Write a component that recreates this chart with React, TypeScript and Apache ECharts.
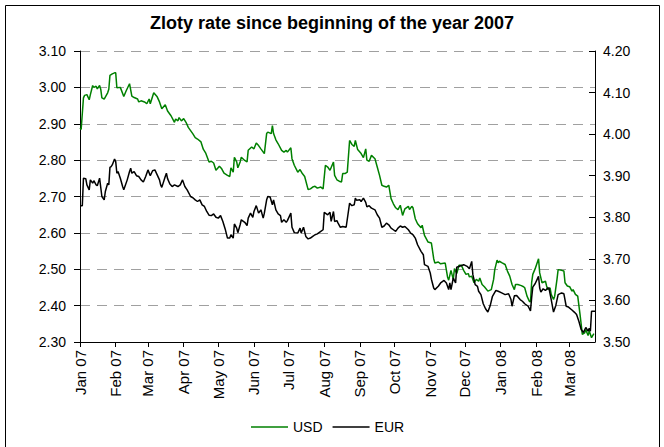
import React, { useEffect, useRef } from "react";
import * as echarts from "echarts";

const START_DATE = "2007-01-01";
const DAY_COUNT = 448; // 2007-01-01 .. 2008-03-23
const MONTHS = ["Jan", "Feb", "Mar", "Apr", "May", "Jun", "Jul", "Aug", "Sep", "Oct", "Nov", "Dec"];

// Days since 2007-01-01 and USD/PLN rate (left axis)
const usdDays = [
  0, 1, 3, 4, 6, 8, 9, 11, 12, 14, 15, 17, 18, 19, 21, 24, 25, 26, 28, 30, 31, 32, 35, 38, 40, 43, 45, 47, 50, 51,
  53, 56, 58, 60, 61, 64, 67, 69, 71, 74, 76, 79, 82, 83, 85, 86, 88, 90, 92, 94, 96, 98, 100, 102, 105, 107, 109, 112,
  114, 116, 118, 121, 123, 125, 128, 130, 131, 133, 134, 136, 137, 139, 140, 143, 145, 146, 149, 151, 153, 155, 157,
  160, 162, 163, 166, 167, 168, 170, 172, 175, 177, 179, 180, 183, 184, 186, 189, 191, 193, 195, 198, 200, 202, 204,
  206, 209, 211, 213, 215, 217, 220, 221, 223, 225, 227, 228, 230, 232, 234, 236, 238, 239, 241, 244, 246, 248, 249,
  251, 253, 256, 258, 260, 262, 264, 266, 268, 270, 272, 274, 276, 278, 280, 282, 285, 286, 288, 289, 291, 293, 296,
  297, 299, 302, 305, 307, 308, 311, 313, 317, 319, 320, 322, 324, 325, 327, 329, 331, 333, 335, 337, 338, 340, 342,
  344, 346, 347, 349, 351, 353, 354, 357, 359, 360, 362, 363, 364, 366, 369, 371, 373, 375, 377, 378, 380, 383, 385,
  386, 388, 390, 391, 392, 393, 395, 398, 399, 401, 404, 405, 406, 408, 409, 411, 412, 414, 415, 418, 420, 421, 423,
  425, 427, 428, 430, 432, 434, 436, 438, 439, 441, 442, 444, 446,
];
const usdRates = [
  2.888, 2.884, 2.971, 2.978, 2.98, 2.966, 2.98, 3.005, 3.0, 3.003, 2.996, 3.005, 2.995, 2.971, 2.968, 2.985, 2.995,
  3.033, 3.037, 3.04, 3.04, 2.999, 3.0, 2.975, 2.99, 3.01, 2.976, 2.972, 2.968, 2.96, 2.963, 2.96, 2.955, 2.968, 2.955,
  2.985, 2.974, 2.96, 2.941, 2.952, 2.935, 2.922, 2.904, 2.913, 2.908, 2.917, 2.908, 2.914, 2.904, 2.89, 2.881, 2.872,
  2.862, 2.858, 2.85, 2.83, 2.82, 2.795, 2.797, 2.792, 2.772, 2.783, 2.776, 2.764, 2.758, 2.755, 2.779, 2.767, 2.808,
  2.795, 2.779, 2.795, 2.808, 2.799, 2.795, 2.827, 2.836, 2.831, 2.847, 2.84, 2.831, 2.818, 2.873, 2.877, 2.873, 2.895,
  2.873, 2.856, 2.845, 2.827, 2.822, 2.827, 2.822, 2.834, 2.804, 2.786, 2.767, 2.774, 2.763, 2.755, 2.719, 2.721,
  2.726, 2.728, 2.723, 2.726, 2.721, 2.786, 2.781, 2.772, 2.795, 2.758, 2.746, 2.742, 2.74, 2.763, 2.763, 2.767, 2.854,
  2.843, 2.838, 2.854, 2.829, 2.818, 2.807, 2.831, 2.8, 2.797, 2.813, 2.804, 2.781, 2.758, 2.731, 2.728, 2.726, 2.731,
  2.694, 2.68, 2.669, 2.664, 2.676, 2.648, 2.666, 2.673, 2.664, 2.673, 2.669, 2.639, 2.625, 2.614, 2.621, 2.593, 2.575,
  2.572, 2.529, 2.517, 2.52, 2.515, 2.517, 2.479, 2.47, 2.497, 2.472, 2.502, 2.488, 2.511, 2.511, 2.497, 2.486, 2.488,
  2.479, 2.481, 2.463, 2.472, 2.467, 2.476, 2.458, 2.452, 2.444, 2.44, 2.444, 2.472, 2.499, 2.525, 2.518, 2.522, 2.518,
  2.513, 2.495, 2.481, 2.458, 2.444, 2.458, 2.458, 2.455, 2.452, 2.449, 2.426, 2.412, 2.41, 2.463, 2.486, 2.501, 2.529,
  2.49, 2.463, 2.467, 2.454, 2.444, 2.449, 2.431, 2.417, 2.426, 2.472, 2.499, 2.497, 2.495, 2.463, 2.454, 2.452, 2.44,
  2.444, 2.431, 2.426, 2.376, 2.321, 2.325, 2.334, 2.318, 2.33, 2.312, 2.323,
];

// Days since 2007-01-01 and EUR/PLN rate (right axis)
const eurDays = [
  0, 2, 3, 5, 6, 8, 9, 11, 12, 14, 15, 17, 19, 21, 22, 24, 25, 26, 27, 28, 30, 31, 32, 33, 35, 37, 38, 41, 43, 44, 45,
  47, 49, 51, 53, 55, 57, 59, 61, 63, 65, 67, 69, 70, 71, 74, 75, 76, 78, 80, 82, 85, 87, 89, 91, 93, 96, 98, 100, 102,
  104, 106, 108, 110, 112, 114, 116, 118, 120, 122, 124, 126, 128, 130, 131, 133, 134, 136, 137, 139, 140, 143, 145,
  146, 148, 150, 151, 153, 155, 157, 159, 160, 162, 163, 165, 167, 168, 170, 172, 174, 175, 177, 179, 180, 183, 184,
  186, 189, 191, 192, 194, 196, 198, 200, 202, 204, 206, 209, 211, 212, 215, 217, 218, 220, 221, 223, 224, 226, 228,
  231, 234, 236, 238, 239, 240, 243, 244, 246, 248, 249, 251, 253, 256, 258, 260, 262, 264, 266, 268, 270, 272, 274,
  276, 278, 280, 282, 285, 287, 289, 291, 293, 296, 298, 299, 302, 304, 305, 307, 308, 311, 313, 316, 318, 320, 321,
  322, 324, 326, 327, 330, 333, 336, 338, 340, 341, 343, 345, 346, 348, 350, 352, 354, 356, 358, 361, 363, 366, 369,
  372, 374, 375, 377, 379, 382, 384, 386, 389, 391, 392, 393, 395, 397, 398, 399, 400, 402, 404, 406, 407, 409, 411,
  413, 415, 418, 420, 422, 424, 427, 429, 431, 433, 435, 437, 439, 441, 442, 443, 444, 447,
];
const eurRates = [
  3.828, 3.828, 3.894, 3.893, 3.878, 3.866, 3.89, 3.882, 3.888, 3.878, 3.876, 3.894, 3.85, 3.842, 3.862, 3.882, 3.878,
  3.92, 3.922, 3.926, 3.94, 3.934, 3.906, 3.91, 3.894, 3.874, 3.866, 3.89, 3.91, 3.918, 3.906, 3.91, 3.9, 3.898, 3.89,
  3.885, 3.898, 3.914, 3.9, 3.912, 3.914, 3.902, 3.89, 3.878, 3.872, 3.898, 3.906, 3.893, 3.88, 3.874, 3.878, 3.874,
  3.878, 3.89, 3.874, 3.866, 3.85, 3.847, 3.842, 3.838, 3.842, 3.83, 3.826, 3.814, 3.805, 3.804, 3.808, 3.8, 3.798,
  3.804, 3.79, 3.772, 3.75, 3.75, 3.758, 3.75, 3.784, 3.774, 3.763, 3.782, 3.794, 3.788, 3.78, 3.798, 3.81, 3.8, 3.814,
  3.828, 3.81, 3.818, 3.798, 3.81, 3.842, 3.85, 3.849, 3.83, 3.842, 3.818, 3.808, 3.804, 3.788, 3.794, 3.788, 3.792,
  3.81, 3.776, 3.763, 3.762, 3.774, 3.762, 3.776, 3.754, 3.748, 3.75, 3.754, 3.758, 3.76, 3.766, 3.77, 3.812, 3.806,
  3.812, 3.79, 3.814, 3.79, 3.792, 3.786, 3.776, 3.778, 3.776, 3.834, 3.828, 3.83, 3.846, 3.841, 3.842, 3.838, 3.846,
  3.836, 3.825, 3.828, 3.822, 3.818, 3.806, 3.798, 3.776, 3.779, 3.786, 3.782, 3.774, 3.77, 3.766, 3.774, 3.779,
  3.776, 3.778, 3.77, 3.762, 3.758, 3.75, 3.734, 3.718, 3.71, 3.686, 3.682, 3.666, 3.651, 3.63, 3.626, 3.634, 3.642,
  3.648, 3.642, 3.626, 3.642, 3.626, 3.654, 3.642, 3.68, 3.683, 3.686, 3.682, 3.676, 3.694, 3.662, 3.638, 3.634, 3.622,
  3.614, 3.592, 3.58, 3.572, 3.587, 3.61, 3.624, 3.622, 3.618, 3.614, 3.616, 3.603, 3.586, 3.611, 3.612, 3.602, 3.598,
  3.592, 3.586, 3.575, 3.606, 3.632, 3.64, 3.652, 3.658, 3.63, 3.62, 3.628, 3.624, 3.63, 3.63, 3.602, 3.572, 3.588,
  3.614, 3.618, 3.616, 3.586, 3.584, 3.577, 3.572, 3.566, 3.55, 3.53, 3.523, 3.535, 3.526, 3.533, 3.526, 3.574, 3.574,
];

const leftTicks = { min: 2.3, max: 3.1, interval: 0.1 };
const rightTicks = { min: 3.5, max: 4.2, interval: 0.1 };

const FONT = "'Liberation Sans', Arial, sans-serif";

function buildDates(): string[] {
  const base = new Date(START_DATE + "T00:00:00Z").getTime();
  const out: string[] = [];
  for (let i = 0; i < DAY_COUNT; i++) {
    out.push(new Date(base + i * 86400000).toISOString().slice(0, 10));
  }
  return out;
}

export default function App() {
  const ref = useRef<HTMLDivElement>(null);
  useEffect(() => {
    if (!ref.current) return;
    const chart = echarts.init(ref.current, undefined, { renderer: "svg" });
    const dates = buildDates();
    const isMonthStart = (_i: number, v: string) => v.slice(8, 10) === "01";
    chart.setOption({
      animation: false,
      backgroundColor: "#fff",
      title: {
        text: "Zloty rate since beginning of the year 2007",
        left: "center",
        top: 9,
        textStyle: { fontFamily: FONT, fontSize: 18, fontWeight: "bold", color: "#000" },
      },
      graphic: [
        {
          type: "rect",
          shape: { x: 5.5, y: 5.5, width: 654, height: 450 },
          style: { fill: "none", stroke: "#000", lineWidth: 1 },
          silent: true,
        },
      ],
      legend: {
        data: ["USD", "EUR"],
        left: 246,
        top: 415,
        icon: "rect",
        itemWidth: 37,
        itemHeight: 1.5,
        itemGap: 10,
        textStyle: { fontFamily: FONT, fontSize: 14, color: "#000" },
      },
      grid: { left: 80, right: 69, top: 51, bottom: 105, containLabel: false },
      xAxis: {
        type: "category",
        data: dates,
        boundaryGap: false,
        axisLine: { lineStyle: { color: "#000", width: 1 } },
        axisTick: { show: true, interval: isMonthStart, length: 5, lineStyle: { color: "#000" } },
        axisLabel: {
          interval: isMonthStart,
          rotate: 90,
          margin: 8,
          fontFamily: FONT,
          fontSize: 15,
          color: "#000",
          formatter: (v: string) => MONTHS[parseInt(v.slice(5, 7), 10) - 1] + " " + v.slice(2, 4),
        },
        splitLine: { show: false },
      },
      yAxis: [
        {
          type: "value",
          position: "left",
          min: leftTicks.min,
          max: leftTicks.max,
          interval: leftTicks.interval,
          axisLine: { show: true, lineStyle: { color: "#000" } },
          axisTick: { show: true, length: 6, lineStyle: { color: "#000" } },
          axisLabel: {
            margin: 14,
            fontFamily: FONT,
            fontSize: 14,
            color: "#000",
            formatter: (v: number) => v.toFixed(2),
          },
          splitLine: { show: true, lineStyle: { color: "#a0a0a0", type: [10, 7], width: 1 } },
        },
        {
          type: "value",
          position: "right",
          min: rightTicks.min,
          max: rightTicks.max,
          interval: rightTicks.interval,
          axisLine: { show: true, lineStyle: { color: "#000" } },
          axisTick: { show: true, inside: true, length: 6, lineStyle: { color: "#000" } },
          axisLabel: {
            margin: 8,
            fontFamily: FONT,
            fontSize: 14,
            color: "#000",
            formatter: (v: number) => v.toFixed(2),
          },
          splitLine: { show: false },
        },
      ],
      series: [
        {
          name: "USD",
          type: "line",
          yAxisIndex: 0,
          symbol: "none",
          data: usdDays.map((d, i) => [d, usdRates[i]]),
          lineStyle: { color: "#008000", width: 1.5 },
          itemStyle: { color: "#008000" },
        },
        {
          name: "EUR",
          type: "line",
          yAxisIndex: 1,
          symbol: "none",
          data: eurDays.map((d, i) => [d, eurRates[i]]),
          lineStyle: { color: "#000", width: 1.5 },
          itemStyle: { color: "#000" },
        },
      ],
    });
    return () => chart.dispose();
  }, []);
  return <div ref={ref} style={{ position: "fixed", left: 0, top: 0, width: 664, height: 447 }} />;
}
